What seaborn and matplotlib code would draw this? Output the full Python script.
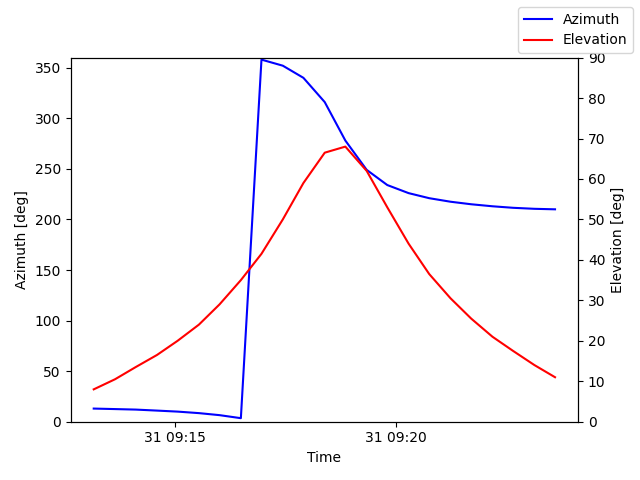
import matplotlib
matplotlib.use("Agg")
import matplotlib.pyplot as plt
import matplotlib.dates as mdates
import seaborn as sns
import pandas as pd

times = ["09:13:09","09:13:38","09:14:06","09:14:35","09:15:03","09:15:32","09:16:00",
         "09:16:29","09:16:57","09:17:26","09:17:54","09:18:23","09:18:51","09:19:20",
         "09:19:48","09:20:17","09:20:45","09:21:14","09:21:42","09:22:11","09:22:39",
         "09:23:08","09:23:36"]
azimuth = [13,12.5,12,11,10,8.5,6.5,3.5,358,352,340,316,278,249,234,226,221,217.5,215,213,211.5,210.5,210]
elevation = [8,10.5,13.5,16.5,20,24,29,35,41.5,50,59,66.5,68,62,53,44,36.5,30.5,25.5,21,17.5,14,11]

df = pd.DataFrame({"Time": pd.to_datetime(["2024-01-31 " + t for t in times]),
                   "Azimuth": azimuth, "Elevation": elevation})

fig, ax = plt.subplots(figsize=(6.4, 4.8), dpi=100)
sns.lineplot(data=df, x="Time", y="Azimuth", color="blue", ax=ax, label="Azimuth", legend=False)
ax2 = ax.twinx()
sns.lineplot(data=df, x="Time", y="Elevation", color="red", ax=ax2, label="Elevation", legend=False)
ax.set_ylim(0, 360)
ax2.set_ylim(0, 90)
ax.set_ylabel("Azimuth [deg]")
ax2.set_ylabel("Elevation [deg]")
ax.set_xlabel("Time")
ax.xaxis.set_major_locator(mdates.MinuteLocator(byminute=range(0, 60, 5)))
ax.xaxis.set_major_formatter(mdates.DateFormatter("%d %H:%M"))
fig.legend(loc="upper right")
fig.tight_layout()
fig.subplots_adjust(top=0.88)
fig.savefig("out.png", dpi=100)
